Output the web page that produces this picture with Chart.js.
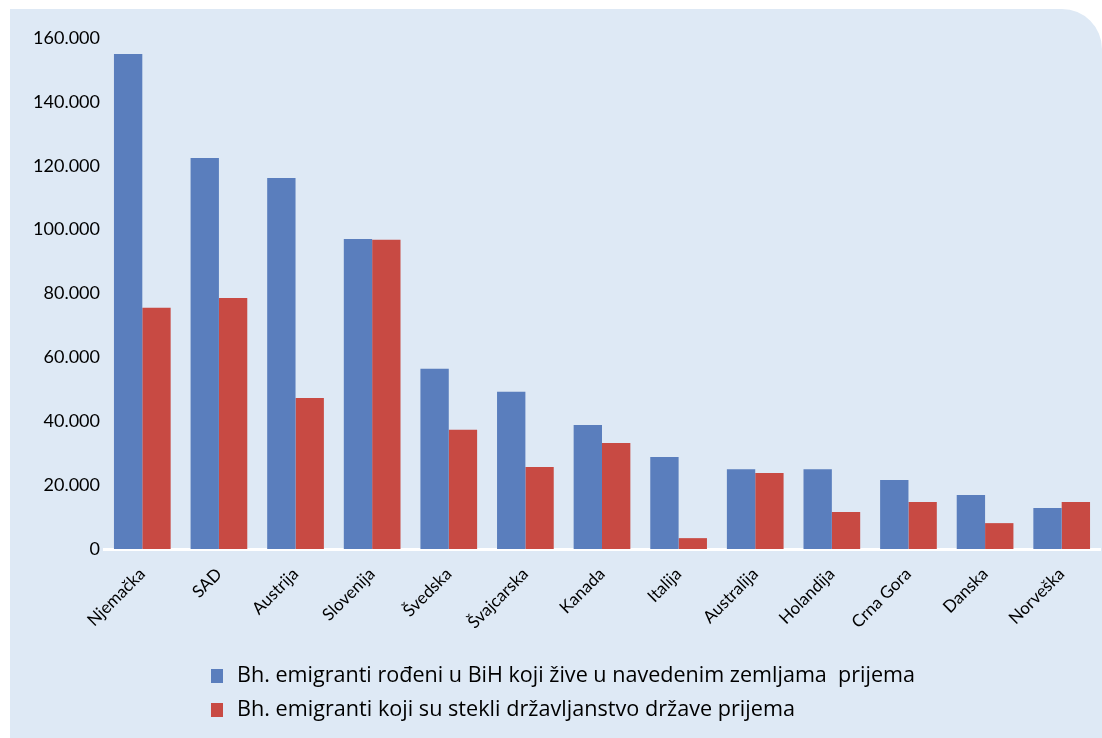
<!DOCTYPE html>
<html>
<head>
<meta charset="utf-8">
<script src="https://cdn.jsdelivr.net/npm/chart.js@4.4.1/dist/chart.umd.min.js"></script>
<style>
  html, body { margin: 0; padding: 0; background: #ffffff; }
  #wrap { position: absolute; left: 0; top: 0; width: 1102px; height: 738px; }
  #bg { position: absolute; left: 10px; top: 9px; width: 1092px; height: 729px; background: #dee9f5; border-top-right-radius: 40px; }
  canvas { position: absolute; left: 0; top: 0; }
</style>
</head>
<body>
<div id="wrap">
  <div id="bg"></div>
  <canvas id="c" width="1102" height="738"></canvas>
</div>
<script>
const categories = ['Njemačka', 'SAD', 'Austrija', 'Slovenija', 'Švedska', 'Švajcarska', 'Kanada', 'Italija', 'Australija', 'Holandija', 'Crna Gora', 'Danska', 'Norveška'];
const bornInBiH = [155000, 122400, 116200, 97100, 56400, 49200, 38800, 28800, 25000, 25000, 21600, 16900, 12800];
const gotCitizenship = [75500, 78600, 47300, 96800, 37300, 25700, 33200, 3400, 23800, 11600, 14700, 8100, 14700];
const seriesNames = ['Bh. emigranti rođeni u BiH koji žive u navedenim zemljama  prijema', 'Bh. emigranti koji su stekli državljanstvo države prijema'];
const yTicks = [0, 20000, 40000, 60000, 80000, 100000, 120000, 140000, 160000];

const FONT = 'Lato, "Open Sans", sans-serif';

const legendPlugin = {
  id: 'customLegend',
  afterDraw(chart) {
    const ctx = chart.ctx;
    ctx.save();
    const rows = [676, 710];
    const widths = [678, 558];
    chart.data.datasets.forEach((ds, i) => {
      ctx.fillStyle = ds.backgroundColor;
      ctx.fillRect(211, rows[i] - 7, 12, 14);
      ctx.fillStyle = '#000000';
      ctx.font = '22px "Open Sans", sans-serif';
      ctx.textBaseline = 'middle';
      ctx.textAlign = 'left';
      ctx.fillText(ds.label, 237, rows[i], widths[i]);
    });
    ctx.restore();
  }
};

new Chart(document.getElementById('c'), {
  type: 'bar',
  data: {
    labels: categories,
    datasets: [
      { label: seriesNames[0], data: bornInBiH, backgroundColor: '#5a7ebd', categoryPercentage: 0.74, barPercentage: 1.0 },
      { label: seriesNames[1], data: gotCitizenship, backgroundColor: '#c84a43', categoryPercentage: 0.74, barPercentage: 1.0 }
    ]
  },
  options: {
    responsive: false,
    animation: false,
    devicePixelRatio: 1,
    layout: { padding: { top: 38, right: 2, left: 0, bottom: 0 } },
    plugins: { legend: { display: false }, tooltip: { enabled: false } },
    scales: {
      x: {
        grid: { display: false, drawTicks: false },
        border: { display: true, color: '#ffffff', width: 3 },
        ticks: { font: { family: FONT, size: 17 }, color: '#000000', maxRotation: 45, minRotation: 45, padding: 15, autoSkip: false },
        afterFit(scale) { scale.height = 189; }
      },
      y: {
        min: 0, max: 160000,
        grid: { display: false, drawTicks: false },
        border: { display: false },
        afterBuildTicks(scale) { scale.ticks = yTicks.map(v => ({ value: v })); },
        ticks: {
          font: { family: FONT, size: 18 }, color: '#000000', padding: 4,
          callback: v => v === 0 ? '0' : v.toLocaleString('de-DE')
        },
        afterFit(scale) { scale.width = 104; }
      }
    }
  },
  plugins: [legendPlugin]
});
</script>
</body>
</html>
